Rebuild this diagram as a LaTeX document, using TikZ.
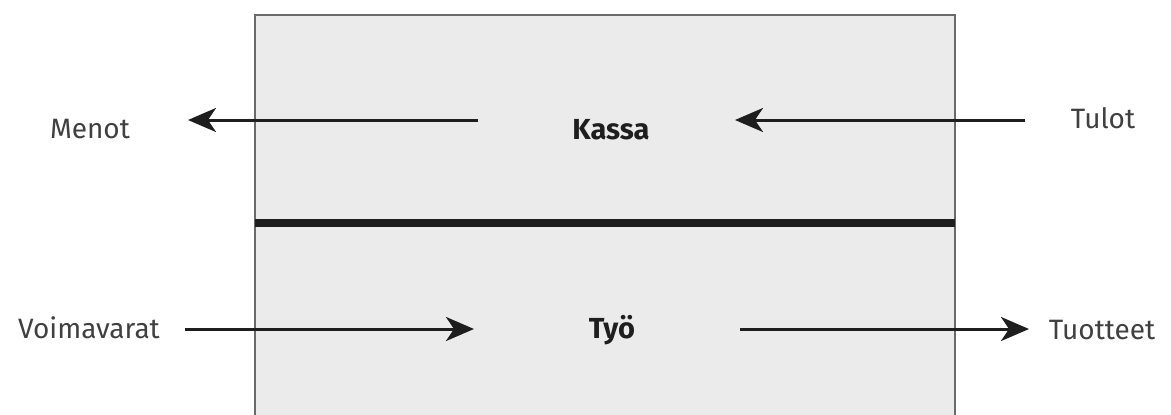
\documentclass[tikz,border=0pt]{standalone}
\usepackage{fontspec}
\setmainfont{Fira Sans}
\usetikzlibrary{arrows.meta}
\definecolor{boxfill}{HTML}{EBEBEB}
\definecolor{boxline}{HTML}{6A6A6A}
\definecolor{ink}{HTML}{1E1E1E}
\tikzset{
  lbl/.style={text=ink!85!white, font=\fontsize{28}{33}\selectfont, inner sep=0pt, anchor=base},
  mainlbl/.style={text=ink, font=\fontsize{29}{34}\selectfont\bfseries, inner sep=0pt, anchor=base},
  flow/.style={draw=ink, line width=3pt, -{Stealth[length=28pt,width=24pt,inset=8pt]}},
}
\begin{document}
\begin{tikzpicture}[x=1pt,y=-1pt]
\useasboundingbox (0,0) rectangle (1171,415);
% box
\fill[boxfill] (255,15) rectangle (955,415);
\draw[boxline, line width=2pt] (255,415) -- (255,15) -- (955,15) -- (955,415);
% divider
\draw[ink, line width=8pt] (255,223) -- (955,223);
% labels
\node[lbl] (menot) at (90,138) {Menot};
\node[lbl] (tulot) at (1103,128) {Tulot};
\node[lbl] (voima) at (89,338) {Voimavarat};
\node[lbl] (tuott) at (1102,339) {Tuotteet};
\node[mainlbl] (kassa) at (611,139) {Kassa};
\node[mainlbl] (tyo) at (612,338) {Työ};
% arrow end points
\coordinate (kL) at (478,120);
\coordinate (mR) at (188,120);
\coordinate (tL) at (1025,120);
\coordinate (kR) at (735,120);
\coordinate (vR) at (185,329);
\coordinate (yL) at (474,329);
\coordinate (yR) at (740,329);
\coordinate (pL) at (1029,329);
\draw[flow] (kL) -- (mR);
\draw[flow] (tL) -- (kR);
\draw[flow] (vR) -- (yL);
\draw[flow] (yR) -- (pL);
\end{tikzpicture}
\end{document}
